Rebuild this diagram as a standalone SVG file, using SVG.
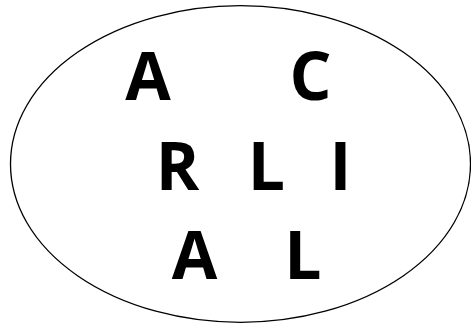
<svg xmlns="http://www.w3.org/2000/svg" width="471" height="325" viewBox="0 0 471 325">
<style>
.t{font-family:"Open Sans","Liberation Sans",sans-serif;font-weight:bold;font-size:66px;fill:#000;text-anchor:middle}
</style>
<rect width="471" height="325" fill="#fff"/>
<g id="ellipse"><ellipse cx="240.5" cy="164" rx="230" ry="158.3" fill="none" stroke="#000" stroke-width="1.3"/></g>
<g id="letters">
<text class="t" x="148" y="100">A</text>
<text class="t" x="310.5" y="100">C</text>
<text class="t" x="177.5" y="190">R</text>
<text class="t" x="266.5" y="190">L</text>
<text class="t" x="340.5" y="190">I</text>
<text class="t" x="194.5" y="279">A</text>
<text class="t" x="303" y="279">L</text>
</g>
</svg>
